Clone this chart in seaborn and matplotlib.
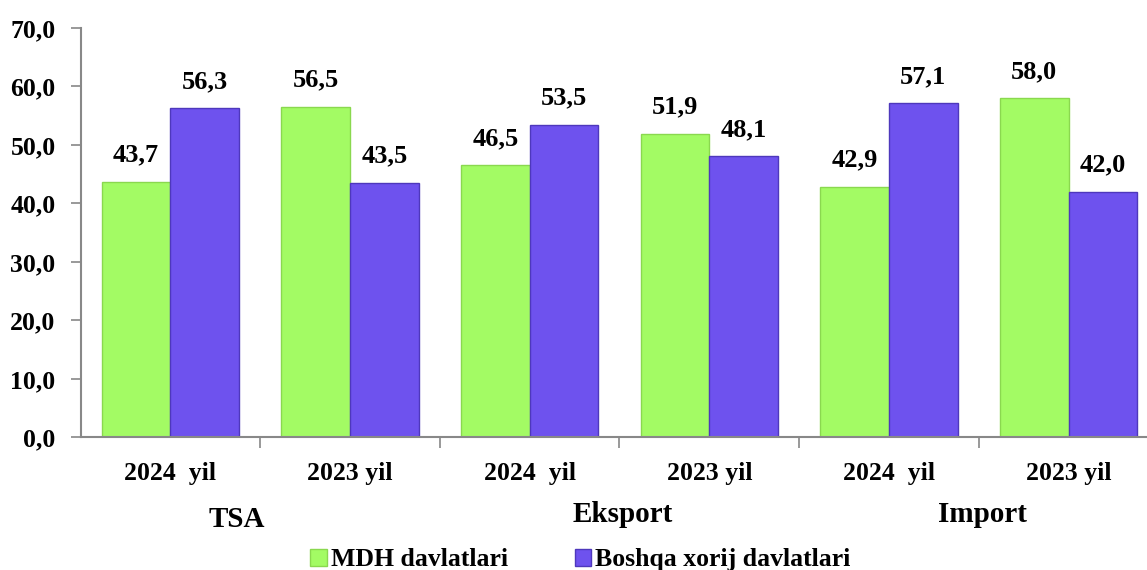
import numpy as np
import pandas as pd
import seaborn as sns
from matplotlib import pyplot as plt
from matplotlib.patches import Patch

# Chart data
groups = ["TSA", "TSA", "Eksport", "Eksport", "Import", "Import"]
years = ["2024  yil", "2023 yil", "2024  yil", "2023 yil", "2024  yil", "2023 yil"]
mdh = [43.7, 56.5, 46.5, 51.9, 42.9, 58.0]
boshqa = [56.3, 43.5, 53.5, 48.1, 57.1, 42.0]
series_names = ["MDH davlatlari", "Boshqa xorij davlatlari"]
group_labels = ["TSA", "Eksport", "Import"]
yticks = [0, 10, 20, 30, 40, 50, 60, 70]

colors = ["#A3FB64", "#6E52EE"]
edges = ["#8AD84F", "#4E38BC"]

keys = [g + " " + y for g, y in zip(groups, years)]
df = pd.DataFrame({
    "key": keys * 2,
    "value": mdh + boshqa,
    "series": [series_names[0]] * 6 + [series_names[1]] * 6,
})

sns.set_style("white")
plt.rcParams['font.family'] = ['Liberation Serif', 'DejaVu Serif']
plt.rcParams['font.weight'] = 'bold'
plt.rcParams['text.color'] = 'black'
plt.rcParams['xtick.color'] = 'black'
plt.rcParams['ytick.color'] = 'black'

fig = plt.figure(figsize=(11.47, 5.7), dpi=100)
# the right end of the axis runs slightly past the image edge, as in the original
ax = fig.add_axes([0.0702, 0.2325, 0.9398, 0.7184])

sns.barplot(data=df, x="key", y="value", hue="series", order=keys,
            hue_order=series_names, palette=colors, saturation=1, width=0.763,
            gap=0, legend=False, ax=ax)

for i, cont in enumerate(ax.containers):
    for bar in cont:
        bar.set_edgecolor(edges[i])
        bar.set_linewidth(1.0)
    labels = [("%.1f" % v).replace(".", ",") for v in cont.datavalues]
    ax.bar_label(cont, labels=labels, padding=11, fontsize=19, fontweight='bold')

ax.set_xlim(-0.5, 5.5)
ax.set_ylim(0, 70)
ax.set_yticks(yticks)
ax.set_yticklabels([("%.1f" % t).replace(".", ",") for t in yticks], fontsize=18.5, fontweight='bold')
ax.set_xticks(range(6))
ax.set_xticklabels(years, fontsize=18.5, fontweight='bold')
ax.set_xticks(np.arange(0.5, 5.5, 1), minor=True)
ax.tick_params(axis='x', which='major', bottom=True, length=0, pad=18)
ax.tick_params(axis='x', which='minor', bottom=True, length=8, color='#888888', width=1.2)
ax.tick_params(axis='y', left=True, length=7, color='#888888', width=1.2, pad=11)
ax.set_xlabel("")
ax.set_ylabel("")

sns.despine(ax=ax, top=True, right=True)
for s in ["left", "bottom"]:
    ax.spines[s].set_color("#888888")
    ax.spines[s].set_linewidth(1.5)

# second level category labels
group_pos = [0.37, 2.52, 4.52]
group_y = [-0.201, -0.189, -0.189]
for lab, xp, yp in zip(group_labels, group_pos, group_y):
    ax.text(xp, yp, lab, transform=ax.get_xaxis_transform(), ha='center', va='center',
            fontsize=21, fontweight='bold')

handles = [Patch(facecolor=colors[i], edgecolor=edges[i]) for i in range(2)]
fig.legend(handles, series_names, loc='center', bbox_to_anchor=(0.506, 0.018), ncol=2,
           frameon=False, prop={'size': 18.5, 'weight': 'bold'}, handlelength=0.65,
           handleheight=0.65, handletextpad=0.15, columnspacing=2.6,
           borderpad=0, borderaxespad=0)

plt.savefig("out.png", dpi=100)
